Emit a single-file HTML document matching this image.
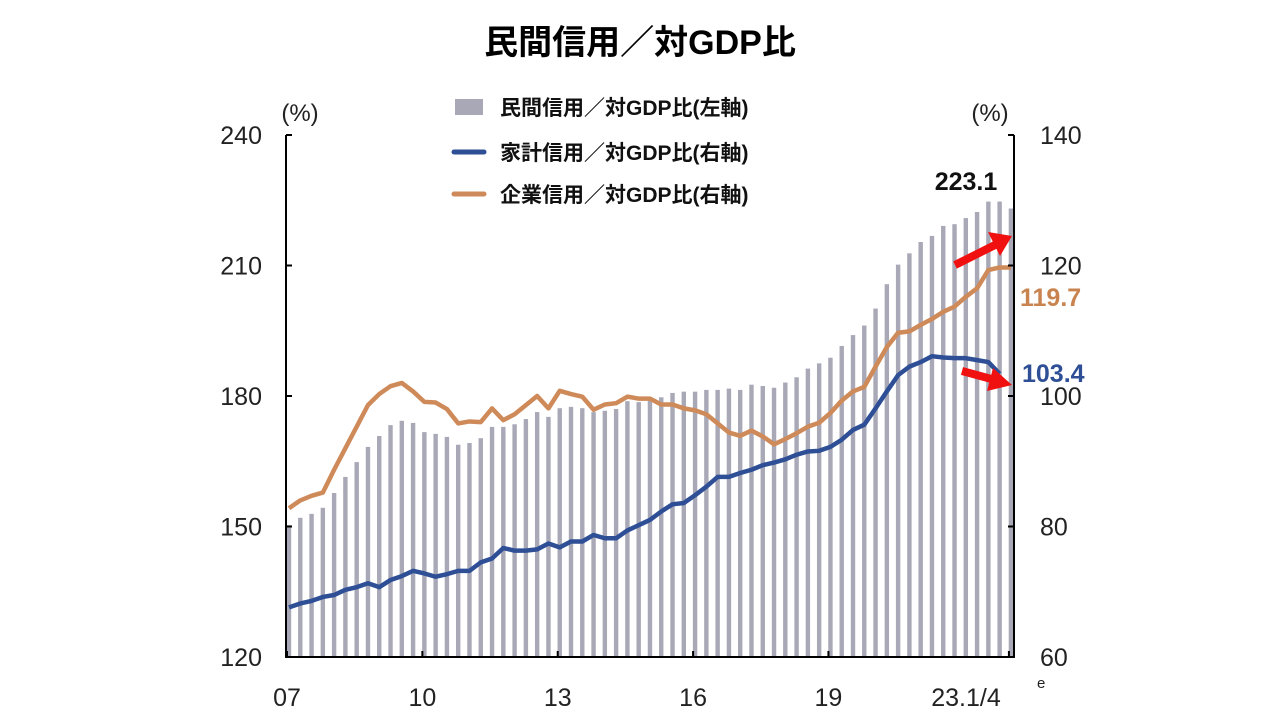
<!DOCTYPE html>
<html><head><meta charset="utf-8"><style>
body{margin:0;background:#fff;width:1280px;height:720px;overflow:hidden;font-family:"Liberation Sans","Noto Sans CJK JP",sans-serif}
</style></head><body>
<svg id="chart" width="1280" height="720" xmlns="http://www.w3.org/2000/svg" font-family="'Liberation Sans','Noto Sans CJK JP',sans-serif">
<text x="640" y="54" text-anchor="middle" font-size="34" font-weight="bold" fill="#000">民間信用／対GDP比</text>
<g id="bars"></g>
<g id="lines"></g>
<g id="axes"></g>
<text x="300" y="121" text-anchor="middle" font-size="24" fill="#222">(%)</text>
<text x="990" y="121" text-anchor="middle" font-size="24" fill="#222">(%)</text>
<g>
<rect x="455" y="99" width="28" height="16" fill="#a8a8b6"/>
<text x="500" y="115" font-size="21" font-weight="bold" fill="#111">民間信用／対GDP比(左軸)</text>
<line x1="454" y1="152" x2="484" y2="152" stroke="#2e4f96" stroke-width="5" stroke-linecap="round"/>
<text x="500" y="160" font-size="21" font-weight="bold" fill="#111">家計信用／対GDP比(右軸)</text>
<line x1="454" y1="194" x2="484" y2="194" stroke="#cf8a5a" stroke-width="5" stroke-linecap="round"/>
<text x="500" y="202" font-size="21" font-weight="bold" fill="#111">企業信用／対GDP比(右軸)</text>
</g>
<text x="966" y="190" text-anchor="middle" font-size="25" font-weight="bold" fill="#111">223.1</text>
<text x="1020" y="306" font-size="25" font-weight="bold" fill="#c9834f">119.7</text>
<text x="1022" y="382" font-size="25" font-weight="bold" fill="#2e4f96">103.4</text>
<g>
<line x1="955" y1="265" x2="995" y2="245" stroke="#f01010" stroke-width="8"/>
<polygon points="1012,236 988,232 1000,256" fill="#f01010"/>
</g>
<g>
<line x1="962" y1="371" x2="995" y2="380" stroke="#f01010" stroke-width="8"/>
<polygon points="1012,385 993,368 987,391" fill="#f01010"/>
</g>
</svg>
<script>
const bars=[150.3,152,152.9,154.3,157.7,161.4,164.8,168.3,170.8,173.3,174.3,173.8,171.7,171.3,170.6,168.8,169.2,170.3,172.9,172.9,173.5,174.7,176.3,175.2,177.2,177.5,177.2,176.3,176.6,177,178.8,178.6,179.7,179.7,180.7,181,181,181.4,181.4,181.7,181.4,182.6,182.3,181.9,183.1,184.3,186.3,187.5,188.8,191.5,194,196.2,200.1,205.7,210.2,212.8,215.4,216.8,219.1,219.5,220.9,222.3,224.7,224.7,223.1];
const household=[67.6,68.2,68.6,69.2,69.5,70.3,70.7,71.3,70.7,71.8,72.4,73.2,72.8,72.3,72.7,73.2,73.2,74.5,75.1,76.7,76.3,76.3,76.5,77.4,76.8,77.7,77.7,78.7,78.2,78.2,79.4,80.2,81.0,82.3,83.4,83.6,84.8,86.1,87.6,87.6,88.2,88.7,89.4,89.8,90.3,91,91.5,91.6,92.2,93.3,94.8,95.6,98.1,100.7,103.2,104.5,105.2,106.1,105.9,105.8,105.8,105.5,105.2,103.4];
const corporate=[82.8,84,84.7,85.2,88.7,92,95.3,98.6,100.3,101.5,102,100.7,99.1,99,98,95.8,96.1,96,98.1,96.3,97.2,98.6,100,98.1,100.8,100.3,99.9,97.9,98.7,98.9,99.9,99.6,99.6,98.7,98.7,98.1,97.8,97.2,95.8,94.4,93.9,94.7,93.8,92.6,93.4,94.3,95.3,95.9,97.4,99.3,100.7,101.4,104.5,107.5,109.7,109.9,110.9,111.8,112.9,113.7,115.2,116.5,119.3,119.7,119.7];
const leftTicks=[120,150,180,210,240];
const rightTicks=[60,80,100,120,140];
const xLabels=["07","10","13","16","19","23.1/4"];
const xLabelIdx=[0,12,24,36,48,64];

const NS="http://www.w3.org/2000/svg";
const X0=289,DX=11.28,YB=657,YT=135;
const xs=i=>X0+i*DX;
const yL=v=>YB-(v-120)/120*(YB-YT);
const yR=v=>YB-(v-60)/80*(YB-YT);
function mk(tag,attrs,parent){const e=document.createElementNS(NS,tag);for(const k in attrs)e.setAttribute(k,attrs[k]);parent.appendChild(e);return e;}
const gb=document.getElementById('bars');
bars.forEach((v,i)=>{
  const r=mk('rect',{x:xs(i)-2.2,y:yL(v),width:4.4,height:YB-yL(v),fill:'#a8a8b6'},gb);
  
  
});
const gl=document.getElementById('lines');
const p1=mk('polyline',{points:corporate.map((v,i)=>xs(i)+','+yR(v)).join(' '),fill:'none',stroke:'#cf8a5a','stroke-width':4.5,'stroke-linejoin':'round'},gl);


const p2=mk('polyline',{points:household.map((v,i)=>xs(i)+','+yR(v)).join(' '),fill:'none',stroke:'#2e4f96','stroke-width':4.5,'stroke-linejoin':'round'},gl);


const ga=document.getElementById('axes');
const ax=mk('path',{d:`M286 ${YT} V${YB} H1014 V${YT}`,fill:'none',stroke:'#000','stroke-width':2},ga);


leftTicks.forEach(v=>{
  const y=yL(v);
  mk('line',{x1:286,y1:y,x2:292,y2:y,stroke:'#000','stroke-width':2},ga);
  const t=mk('text',{x:262,y:y+9,'text-anchor':'end','font-size':25,fill:'#222'},ga);
  t.textContent=v;
  
  
});
rightTicks.forEach(v=>{
  const y=yR(v);
  mk('line',{x1:1008,y1:y,x2:1014,y2:y,stroke:'#000','stroke-width':2},ga);
  const t=mk('text',{x:1040,y:y+9,'font-size':25,fill:'#222'},ga);
  t.textContent=v;
  
  
});
xLabels.forEach((s,k)=>{
  const x=xs(xLabelIdx[k])-2;
  mk('line',{x1:x,y1:YB,x2:x,y2:YB-6,stroke:'#000','stroke-width':2},ga);
  const t=mk('text',{x:k==5?966:x,y:706,'text-anchor':'middle','font-size':25,fill:'#222'},ga);
  t.textContent=s;
  
  
});
const e=mk('text',{x:1037,y:688,'font-size':15,fill:'#222'},ga);
e.textContent='e';


</script>
</body></html>
